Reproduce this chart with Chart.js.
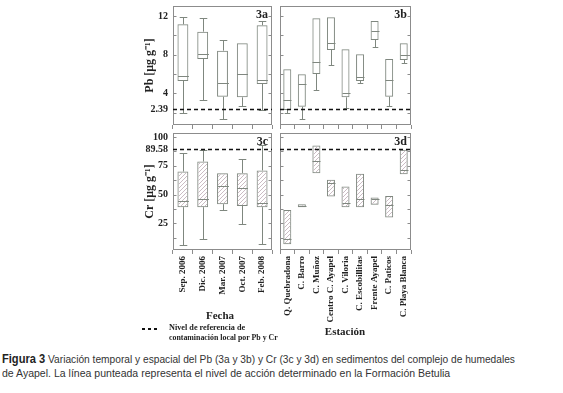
<!DOCTYPE html>
<html>
<head>
<meta charset="utf-8">
<script src="https://cdn.jsdelivr.net/npm/chart.js@4"></script>
<style>
  body { margin: 0; background: #fff; width: 563px; height: 393px; position: relative; overflow: hidden; }
  canvas { position: absolute; }
  .t { position: absolute; font-family: "Liberation Serif", "Times New Roman", serif; font-weight: bold; color: #222; white-space: nowrap; transform-origin: 0 50%; }
  .cap { position: absolute; left: 2px; font-family: "Liberation Sans", Arial, sans-serif; font-size: 11px; line-height: 13px; color: #333; white-space: nowrap; transform-origin: 0 50%; }
</style>
</head>
<body>
<canvas id="c3a" width="131" height="135" style="left:143px;top:0"></canvas>
<canvas id="c3b" width="133" height="135" style="left:280px;top:0"></canvas>
<canvas id="c3c" width="131" height="200" style="left:143px;top:128px"></canvas>
<canvas id="c3d" width="133" height="200" style="left:280px;top:128px"></canvas>

<div class="t" style="left:220px;top:315px;font-size:11px;transform:translate(-50%,-50%)">Fecha</div>
<div class="t" style="left:345px;top:331px;font-size:11px;transform:translate(-50%,-50%)">Estación</div>
<div style="position:absolute;left:142px;top:328px;width:16px;height:1.5px;background:repeating-linear-gradient(90deg,#111 0 3px,transparent 3px 6px)"></div>
<div class="t fit" data-w="76" style="left:169px;top:323px;font-size:8px">Nivel de referencia de</div>
<div class="t fit" data-w="109" style="left:169px;top:333px;font-size:8px">contaminación local por Pb y Cr</div>

<div class="cap fit" data-w="513" style="top:353px"><b style="font-size:12px;color:#222">Figura 3</b> Variación temporal y espacial del Pb (3a y 3b) y Cr (3c y 3d) en sedimentos del complejo de humedales</div>
<div class="cap fit" data-w="448" style="top:367px">de Ayapel. La línea punteada representa el nivel de acción determinado en la Formación Betulia</div>

<script>
// categories
const fechas = ['Sep. 2006', 'Dic. 2006', 'Mar. 2007', 'Oct. 2007', 'Feb. 2008'];
const estaciones = ['Q. Quebradona', 'C. Barro', 'C. Muñoz', 'Centro C. Ayapel', 'C. Viloria',
  'C. Escobillitas', 'Frente Ayapel', 'C. Paticos', 'C. Playa Blanca'];

// Pb por fecha (3a)
const pbFechaMin = [1.95, 3.32, 1.36, 2.70, 2.29];
const pbFechaQ1  = [5.29, 7.56, 3.66, 3.60, 4.98];
const pbFechaMed = [5.80, 8.04, 5.05, 6.00, 5.39];
const pbFechaQ3  = [11.14, 10.38, 8.42, 9.18, 11.04];
const pbFechaMax = [11.93, 11.76, 9.52, 9.18, 11.48];

// Pb por estacion (3b)
const pbEstMin = [1.95, 1.36, 4.36, 6.94, 2.46, 5.05, 8.77, 2.70, 7.11];
const pbEstQ1  = [2.29, 2.63, 6.01, 8.49, 3.60, 5.29, 9.52, 3.66, 7.45];
const pbEstMed = [3.32, 4.98, 7.22, 9.18, 4.01, 5.67, 10.45, 5.39, 7.97];
const pbEstQ3  = [6.49, 5.98, 11.76, 11.86, 8.56, 8.04, 11.48, 7.56, 9.18];
const pbEstMax = [6.49, 5.98, 11.76, 11.86, 8.56, 8.04, 11.48, 7.56, 9.18];

// Cr por fecha (3c)
const crFechaMin = [6.1, 11.1, 36.6, 24.2, 6.7];
const crFechaQ1  = [39.0, 39.0, 41.6, 40.1, 39.0];
const crFechaMed = [44.5, 46.2, 57.5, 55.5, 43.0];
const crFechaQ3  = [70.0, 78.7, 68.6, 68.6, 70.9];
const crFechaMax = [86.0, 88.9, 68.6, 80.8, 93.3];

// Cr por estacion (3d)
const crEstQ1  = [6.7, 39.0, 68.6, 48.2, 39.0, 39.0, 41.0, 29.9, 67.7];
const crEstMed = [11.3, 40.0, 79.3, 59.9, 43.0, 45.9, 45.9, 41.0, 71.5];
const crEstQ3  = [36.6, 41.6, 92.7, 62.8, 56.9, 68.0, 47.3, 48.8, 88.9];
const crEstMin = crEstQ1;
const crEstMax = crEstQ3;

// axes
const pbTicks = [2.39, 4, 8, 12];
const pbMarks = [2, 4, 6, 8, 10, 12];
const crTicks = [25, 50, 75, 89.58, 100];
const crMarks = [12.5, 25, 37.5, 50, 62.5, 75, 87.5, 100];
const pbRef = 2.39;
const crRef = 89.58;

const serif = '"Liberation Serif", "Times New Roman", serif';

const boxPlugin = {
  id: 'boxes',
  afterDatasetsDraw(chart) {
    const { ctx, chartArea: a, scales: { y } } = chart;
    const p = chart.options.plugins.boxes;
    const els = chart.getDatasetMeta(0).data;
    ctx.save();
    ctx.lineWidth = 1;
    ctx.strokeStyle = p.line;
    ctx.beginPath();
    els.forEach((el, i) => {
      const cx = Math.round(el.x) + 0.5, hw = el.width / 2, cap = el.width * 0.35;
      const ym = Math.round(y.getPixelForValue(p.med[i])) + 0.5;
      ctx.moveTo(cx - hw, ym); ctx.lineTo(cx + hw, ym);
      if (p.max[i] > p.q3[i]) {
        const y3 = y.getPixelForValue(p.q3[i]), yt = Math.round(y.getPixelForValue(p.max[i])) + 0.5;
        ctx.moveTo(cx, y3); ctx.lineTo(cx, yt);
        ctx.moveTo(cx - cap, yt); ctx.lineTo(cx + cap, yt);
      }
      if (p.min[i] < p.q1[i]) {
        const y1 = y.getPixelForValue(p.q1[i]), yb = Math.round(y.getPixelForValue(p.min[i])) + 0.5;
        ctx.moveTo(cx, y1); ctx.lineTo(cx, yb);
        ctx.moveTo(cx - cap, yb); ctx.lineTo(cx + cap, yb);
      }
    });
    ctx.stroke();

    // frame and inward ticks
    const l = Math.round(a.left) + 0.5, r = Math.round(a.right) - 0.5;
    const t = Math.round(a.top) + 0.5, b = Math.round(a.bottom) - 0.5;
    ctx.strokeStyle = '#8c8c8c';
    ctx.strokeRect(l, t, r - l, b - t);
    ctx.beginPath();
    p.marks.forEach(v => {
      const yy = Math.round(y.getPixelForValue(v)) + 0.5;
      ctx.moveTo(l, yy); ctx.lineTo(l + 3, yy);
      ctx.moveTo(r, yy); ctx.lineTo(r - 3, yy);
    });
    ctx.stroke();

    // reference level
    const yr = Math.round(y.getPixelForValue(p.ref)) + 0.5;
    ctx.strokeStyle = '#111';
    ctx.lineWidth = 1.5;
    ctx.setLineDash([4, 3]);
    ctx.beginPath();
    ctx.moveTo(a.left, yr); ctx.lineTo(a.right, yr);
    ctx.stroke();
    ctx.setLineDash([]);

    // panel tag
    ctx.fillStyle = '#222';
    ctx.font = 'bold 12px ' + serif;
    ctx.textAlign = 'right';
    ctx.textBaseline = 'top';
    ctx.fillText(p.tag, a.right - 4, a.top + 3);
    ctx.restore();
  }
};

function hatch(ctx) {
  const c = document.createElement('canvas');
  c.width = 4; c.height = 4;
  const g = c.getContext('2d');
  g.strokeStyle = '#cbbcc4';
  g.lineWidth = 1;
  g.beginPath();
  g.moveTo(0, 4); g.lineTo(4, 0);
  g.moveTo(-1, 1); g.lineTo(1, -1);
  g.moveTo(3, 5); g.lineTo(5, 3);
  g.stroke();
  return ctx.createPattern(c, 'repeat');
}

function panel(id, cfg) {
  const canvas = document.getElementById(id);
  const ctx = canvas.getContext('2d');
  return new Chart(canvas, {
    type: 'bar',
    data: {
      labels: cfg.labels,
      datasets: [{
        data: cfg.q1.map((v, i) => [v, cfg.q3[i]]),
        backgroundColor: cfg.hatched ? hatch(ctx) : 'rgba(255,255,255,0)',
        borderColor: '#7f877f',
        borderWidth: 1,
        borderSkipped: false,
        barPercentage: 0.55,
        categoryPercentage: 1
      }]
    },
    options: {
      responsive: false,
      animation: false,
      layout: { padding: cfg.pad },
      plugins: {
        legend: { display: false },
        tooltip: { enabled: false },
        boxes: { line: '#7f877f', min: cfg.min, q1: cfg.q1, med: cfg.med, q3: cfg.q3, max: cfg.max,
                 marks: cfg.marks, ref: cfg.ref, tag: cfg.tag }
      },
      scales: {
        x: {
          offset: true,
          grid: { display: true, drawOnChartArea: false, drawTicks: true, tickLength: 4, color: '#8c8c8c' },
          border: { display: false },
          ticks: { display: cfg.showX, minRotation: 90, maxRotation: 90, autoSkip: false, padding: 2,
                   color: '#222', font: { family: serif, weight: 'bold', size: 9 } },
          afterFit: s => { s.height = cfg.xh; s.paddingLeft = 0; s.paddingRight = 0; }
        },
        y: {
          min: cfg.yMin, max: cfg.yMax,
          afterBuildTicks: s => { s.ticks = cfg.ticks.map(v => ({ value: v })); },
          grid: { display: false, drawTicks: false },
          border: { display: false },
          ticks: { display: cfg.showY, padding: 5, color: '#222', callback: v => String(v),
                   font: { family: serif, weight: 'bold', size: 10 } },
          title: { display: !!cfg.title, text: cfg.title, padding: 0, color: '#222',
                   font: { family: serif, weight: 'bold', size: 12 } },
          afterFit: s => { s.width = cfg.yw; s.paddingTop = 0; s.paddingBottom = 0; }
        }
      }
    },
    plugins: [boxPlugin]
  });
}

panel('c3a', {
  labels: fechas, min: pbFechaMin, q1: pbFechaQ1, med: pbFechaMed, q3: pbFechaQ3, max: pbFechaMax,
  yMin: 0.74, yMax: 13.03, ticks: pbTicks, marks: pbMarks, ref: pbRef, tag: '3a',
  title: 'Pb [μg g⁻¹]', showY: true, showX: false, yw: 30, xh: 10,
  pad: { left: 0, top: 6, right: 2, bottom: 0 }
});
panel('c3b', {
  labels: estaciones, min: pbEstMin, q1: pbEstQ1, med: pbEstMed, q3: pbEstQ3, max: pbEstMax,
  yMin: 0.74, yMax: 13.03, ticks: pbTicks, marks: pbMarks, ref: pbRef, tag: '3b',
  title: '', showY: false, showX: false, yw: 0, xh: 10,
  pad: { left: 0, top: 6, right: 2, bottom: 0 }
});
panel('c3c', {
  labels: fechas, min: crFechaMin, q1: crFechaQ1, med: crFechaMed, q3: crFechaQ3, max: crFechaMax,
  yMin: 1.74, yMax: 103.5, ticks: crTicks, marks: crMarks, ref: crRef, tag: '3c', hatched: true,
  title: 'Cr [μg g⁻¹]', showY: true, showX: true, yw: 30, xh: 78,
  pad: { left: 0, top: 5, right: 2, bottom: 0 }
});
panel('c3d', {
  labels: estaciones, min: crEstMin, q1: crEstQ1, med: crEstMed, q3: crEstQ3, max: crEstMax,
  yMin: 1.74, yMax: 103.5, ticks: crTicks, marks: crMarks, ref: crRef, tag: '3d', hatched: true,
  title: '', showY: false, showX: true, yw: 0, xh: 78,
  pad: { left: 0, top: 5, right: 2, bottom: 0 }
});

// squeeze text lines to the widths of the reference
document.querySelectorAll('.fit').forEach(el => {
  const w = +el.dataset.w;
  const base = el.style.transform || '';
  el.style.transform = base + ' scaleX(' + (w / el.offsetWidth) + ')';
});
</script>
</body>
</html>
